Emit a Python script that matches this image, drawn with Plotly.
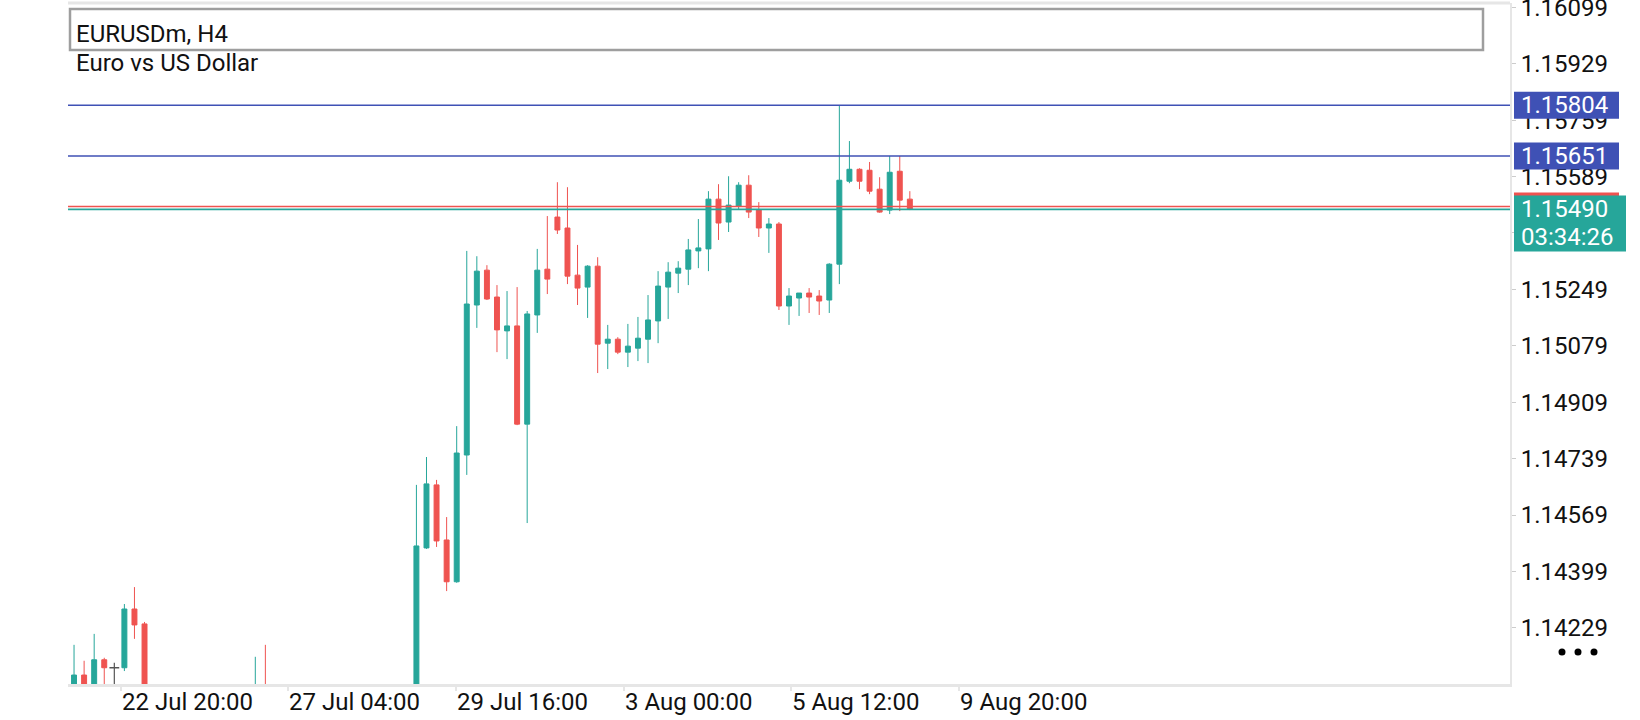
import plotly.graph_objects as go

# ---------------- data ----------------
SYMBOL = "EURUSDm, H4"
DESCRIPTION = "Euro vs US Dollar"

OPEN = [1.14040, 1.14087, 1.14045, 1.14133, 1.14109, 1.14109, 1.14286, 1.14241,
        1.13980, 1.13890, 1.13930, 1.13990, 1.13950, 1.13820, 1.13870, 1.13910,
        1.13880, 1.13900, 1.13950, 1.14010, 1.13920, 1.13810, 1.13690, 1.13600,
        1.13650, 1.13620, 1.13540, 1.13580, 1.13560, 1.13600, 1.13680, 1.13730,
        1.13790, 1.13850, 1.13960, 1.14470, 1.14660, 1.14494, 1.14368, 1.14750,
        1.15202, 1.15307, 1.15226, 1.15124, 1.15139, 1.14843, 1.15172, 1.15310,
        1.15467, 1.15434, 1.15292, 1.15256, 1.15319, 1.15087, 1.15099, 1.15060,
        1.15072, 1.15099, 1.15154, 1.15256, 1.15298, 1.15310, 1.15365, 1.15371,
        1.15521, 1.15452, 1.15500, 1.15563, 1.15488, 1.15434, 1.15446, 1.15199,
        1.15223, 1.15238, 1.15229, 1.15217, 1.15325, 1.15575, 1.15611, 1.15608,
        1.15551, 1.15488, 1.15605, 1.15521]
HIGH = [1.14178, 1.14130, 1.14211, 1.14139, 1.14124, 1.14301, 1.14352, 1.14247,
        1.14030, 1.13960, 1.14010, 1.14040, 1.13990, 1.13900, 1.13950, 1.13980,
        1.13940, 1.13990, 1.14142, 1.14178, 1.13970, 1.13860, 1.13750, 1.13680,
        1.13720, 1.13660, 1.13610, 1.13640, 1.13620, 1.13700, 1.13760, 1.13820,
        1.13880, 1.13990, 1.14660, 1.14744, 1.14675, 1.14563, 1.14837, 1.15365,
        1.15349, 1.15322, 1.15262, 1.15244, 1.15256, 1.15184, 1.15371, 1.15470,
        1.15572, 1.15557, 1.15383, 1.15322, 1.15346, 1.15142, 1.15105, 1.15145,
        1.15166, 1.15232, 1.15304, 1.15331, 1.15334, 1.15401, 1.15461, 1.15545,
        1.15566, 1.15590, 1.15572, 1.15593, 1.15512, 1.15464, 1.15452, 1.15253,
        1.15238, 1.15253, 1.15247, 1.15328, 1.15804, 1.15696, 1.15614, 1.15633,
        1.15587, 1.15651, 1.15651, 1.15545]
LOW = [1.14010, 1.14010, 1.14020, 1.14040, 1.14040, 1.14099, 1.14196, 1.13950,
       1.13850, 1.13820, 1.13870, 1.13900, 1.13780, 1.13760, 1.13830, 1.13850,
       1.13800, 1.13860, 1.13910, 1.13880, 1.13780, 1.13640, 1.13560, 1.13520,
       1.13580, 1.13490, 1.13470, 1.13510, 1.13500, 1.13570, 1.13630, 1.13690,
       1.13740, 1.13820, 1.13940, 1.14467, 1.14473, 1.14340, 1.14365, 1.14690,
       1.15133, 1.15217, 1.15060, 1.15039, 1.14840, 1.14545, 1.15118, 1.15235,
       1.15416, 1.15265, 1.15202, 1.15163, 1.14997, 1.15009, 1.15054, 1.15015,
       1.15033, 1.15027, 1.15087, 1.15160, 1.15238, 1.15262, 1.15313, 1.15304,
       1.15398, 1.15422, 1.15491, 1.15464, 1.15407, 1.15359, 1.15187, 1.15142,
       1.15169, 1.15178, 1.15172, 1.15178, 1.15265, 1.15569, 1.15551, 1.15536,
       1.15480, 1.15476, 1.15485, 1.15488]
CLOSE = [1.14087, 1.14040, 1.14133, 1.14109, 1.14109, 1.14286, 1.14238, 1.13980,
         1.13890, 1.13930, 1.13990, 1.13950, 1.13820, 1.13870, 1.13910, 1.13880,
         1.13900, 1.13950, 1.14010, 1.13920, 1.13810, 1.13690, 1.13600, 1.13650,
         1.13620, 1.13540, 1.13580, 1.13560, 1.13600, 1.13680, 1.13730, 1.13790,
         1.13850, 1.13960, 1.14476, 1.14663, 1.14491, 1.14368, 1.14756, 1.15205,
         1.15304, 1.15220, 1.15127, 1.15139, 1.14843, 1.15175, 1.15307, 1.15280,
         1.15428, 1.15289, 1.15253, 1.15319, 1.15084, 1.15099, 1.15060, 1.15078,
         1.15102, 1.15157, 1.15259, 1.15301, 1.15313, 1.15368, 1.15374, 1.15521,
         1.15449, 1.15503, 1.15563, 1.15482, 1.15434, 1.15446, 1.15199, 1.15229,
         1.15238, 1.15226, 1.15214, 1.15325, 1.15578, 1.15611, 1.15575, 1.15545,
         1.15482, 1.15602, 1.15518, 1.15490]
BARS = list(range(len(OPEN)))

Y_TICKS = [1.14229, 1.14399, 1.14569, 1.14739, 1.14909, 1.15079, 1.15249,
           1.15419, 1.15589, 1.15759, 1.15929, 1.16099]
TICK_BARS = [4.64, 21.28, 37.93, 54.59, 71.24, 87.9]
TICK_LABELS = ["22 Jul 20:00", "27 Jul 04:00", "29 Jul 16:00",
               "3 Aug 00:00", "5 Aug 12:00", "9 Aug 20:00"]

LEVELS = [1.15804, 1.15651]
BID = 1.15490
ASK = 1.15499
COUNTDOWN = "03:34:26"

# ---------------- style ----------------
GREEN = "#26A69A"
RED = "#EF5350"
BLUE = "#3F51B5"
FRAME = "#E6E6E6"
FONT = "Roboto"
FS = 24

X_RANGE = [-0.6, 142.6]
Y_RANGE = [1.14060, 1.16112]

fig = go.Figure()

is_doji = [o == c for o, c in zip(OPEN, CLOSE)]
fig.add_trace(go.Candlestick(
    x=BARS,
    open=[None if d else v for v, d in zip(OPEN, is_doji)],
    high=[None if d else v for v, d in zip(HIGH, is_doji)],
    low=[None if d else v for v, d in zip(LOW, is_doji)],
    close=[None if d else v for v, d in zip(CLOSE, is_doji)],
    increasing=dict(line=dict(color=GREEN, width=1), fillcolor=GREEN),
    decreasing=dict(line=dict(color=RED, width=1), fillcolor=RED),
    whiskerwidth=0,
    showlegend=False,
    hoverinfo="skip",
))

# doji candles drawn as grey crosses
for i, d in enumerate(is_doji):
    if d:
        fig.add_trace(go.Scatter(x=[BARS[i], BARS[i]], y=[LOW[i], HIGH[i]], mode="lines",
                                 line=dict(color="#555555", width=1.2),
                                 showlegend=False, hoverinfo="skip"))
        fig.add_trace(go.Scatter(x=[BARS[i]], y=[CLOSE[i]], mode="markers",
                                 marker=dict(symbol="line-ew", size=7,
                                             line=dict(color="#555555", width=1.5)),
                                 showlegend=False, hoverinfo="skip"))

shapes = []
annotations = []

# horizontal price lines
for lv in LEVELS:
    shapes.append(dict(type="line", xref="paper", x0=0, x1=1, yref="y", y0=lv, y1=lv,
                       line=dict(color=BLUE, width=1.6)))
shapes.append(dict(type="line", xref="paper", x0=0, x1=1, yref="y", y0=ASK, y1=ASK,
                   line=dict(color=RED, width=1.6)))
shapes.append(dict(type="line", xref="paper", x0=0, x1=1, yref="y", y0=BID, y1=BID,
                   line=dict(color=GREEN, width=1.6)))

# top frame line
shapes.append(dict(type="line", xref="paper", x0=0, x1=1, yref="paper", y0=1, y1=1,
                   line=dict(color=FRAME, width=3)))


def price_box(price, color, top, bottom, right):
    return dict(type="rect", xref="paper", xsizemode="pixel", xanchor=1, x0=4, x1=right,
                yref="y", ysizemode="pixel", yanchor=price, y0=-bottom, y1=top,
                fillcolor=color, line=dict(width=0), layer="above")


for lv in LEVELS:
    shapes.append(price_box(lv, BLUE, 13.5, 13.5, 109))
    annotations.append(dict(x=1, xref="paper", xanchor="left", xshift=9,
                            y=lv, yref="y", yanchor="middle", showarrow=False,
                            text=f"{lv:.5f}", font=dict(family=FONT, size=FS, color="white")))

shapes.append(price_box(ASK, RED, 14, 14, 109))
shapes.append(price_box(BID, GREEN, 14, 42, 116))
annotations.append(dict(x=1, xref="paper", xanchor="left", xshift=9,
                        y=BID, yref="y", yanchor="middle", showarrow=False,
                        text=f"{BID:.5f}", font=dict(family=FONT, size=FS, color="white")))
annotations.append(dict(x=1, xref="paper", xanchor="left", xshift=9,
                        y=BID, yref="y", yanchor="middle", yshift=-28, showarrow=False,
                        text=COUNTDOWN, font=dict(family=FONT, size=FS, color="white")))

# title box
shapes.append(dict(type="rect", xref="paper", xsizemode="pixel", xanchor=0, x0=2, x1=1415,
                   yref="paper", ysizemode="pixel", yanchor=1, y0=-47, y1=-6,
                   line=dict(color="#9E9E9E", width=2.5), fillcolor="rgba(0,0,0,0)"))
annotations.append(dict(x=0, xref="paper", xanchor="left", xshift=6,
                        y=1, yref="paper", yanchor="middle", yshift=-31, showarrow=False,
                        text=SYMBOL, font=dict(family=FONT, size=FS, color="#111111")))
annotations.append(dict(x=0, xref="paper", xanchor="left", xshift=6,
                        y=1, yref="paper", yanchor="middle", yshift=-60, showarrow=False,
                        text=DESCRIPTION, font=dict(family=FONT, size=FS, color="#111111")))

# x-axis labels, left-aligned to their ticks
for tb, tl in zip(TICK_BARS, TICK_LABELS):
    annotations.append(dict(x=tb, xref="x", xanchor="left", xshift=-1,
                            y=0, yref="paper", yanchor="middle", yshift=-18, showarrow=False,
                            text=tl, font=dict(family=FONT, size=FS, color="#111111")))

# three-dot menu
for dx in (52, 68, 84):
    shapes.append(dict(type="circle", xref="paper", xsizemode="pixel", xanchor=1,
                       x0=dx - 3.5, x1=dx + 3.5,
                       yref="paper", ysizemode="pixel", yanchor=0, y0=28.5, y1=35.5,
                       fillcolor="#000000", line=dict(width=0)))

fig.update_layout(
    width=1640, height=720, autosize=False,
    margin=dict(l=68, r=130, t=3, b=36, pad=0, autoexpand=False),
    paper_bgcolor="white", plot_bgcolor="white",
    font=dict(family=FONT, size=FS, color="#111111"),
    showlegend=False,
    shapes=shapes, annotations=annotations,
    xaxis=dict(range=X_RANGE, showgrid=False, zeroline=False, automargin=False,
               tickmode="array", tickvals=TICK_BARS, ticktext=[""] * len(TICK_BARS),
               ticks="outside", ticklen=4, tickcolor=FRAME, tickwidth=2,
               showline=True, linecolor=FRAME, linewidth=3,
               rangeslider=dict(visible=False), fixedrange=True),
    yaxis=dict(range=Y_RANGE, side="right", showgrid=False, zeroline=False, automargin=False,
               tickmode="array", tickvals=Y_TICKS,
               ticktext=[f"{v:.5f}" for v in Y_TICKS],
               ticks="outside", ticklen=4, tickcolor="#CCCCCC", tickwidth=1,
               tickfont=dict(family=FONT, size=FS, color="#111111"),
               ticklabeloverflow="allow",
               showline=True, linecolor=FRAME, linewidth=2, fixedrange=True),
)

fig.write_html("out.html", config={"displayModeBar": False},
               post_script="document.body.style.margin='0';")
